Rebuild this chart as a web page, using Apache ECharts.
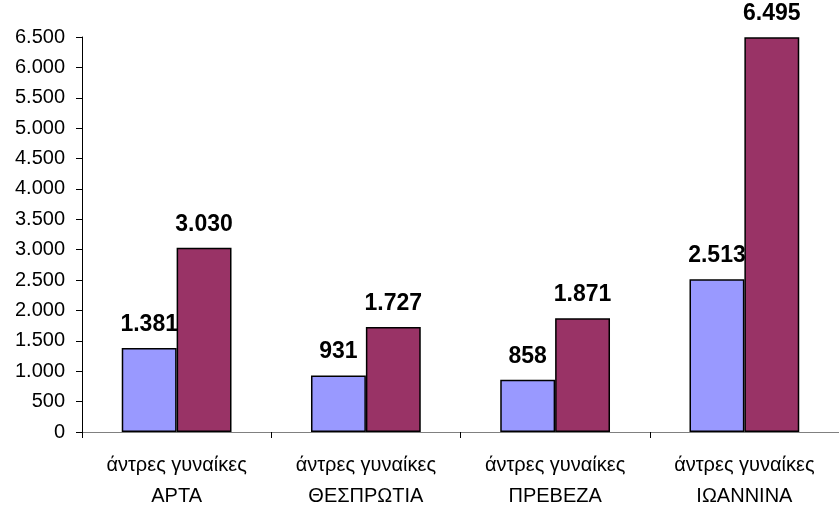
<!DOCTYPE html>
<html>
<head>
<meta charset="utf-8">
<script src="https://cdn.jsdelivr.net/npm/echarts@6/dist/echarts.min.js"></script>
<style>
  html, body { margin: 0; padding: 0; background: #fff; }
  #chart { width: 839px; height: 512px; }
</style>
</head>
<body>
<div id="chart"></div>
<script>
// νομοί και τιμές
var regions = ["ΑΡΤΑ", "ΘΕΣΠΡΩΤΙΑ", "ΠΡΕΒΕΖΑ", "ΙΩΑΝΝΙΝΑ"];
var men = [1381, 931, 858, 2513];
var women = [3030, 1727, 1871, 6495];
var yTicks = [0, 500, 1000, 1500, 2000, 2500, 3000, 3500, 4000, 4500, 5000, 5500, 6000, 6500];

// 6495 -> 6.495
function fmt(v) {
  return String(v).replace(/\B(?=(\d{3})+(?!\d))/g, ".");
}

var chart = echarts.init(document.getElementById("chart"));

var labelStyle = {
  show: true,
  position: "top",
  distance: 12,
  color: "#000",
  fontFamily: "Liberation Sans, Arial, sans-serif",
  fontWeight: "bold",
  fontSize: 23,
  formatter: function (p) { return fmt(p.value); }
};

var option = {
  animation: false,
  grid: { left: 82, right: -5, top: 37, bottom: 75, containLabel: false },
  xAxis: {
    type: "category",
    data: regions,
    axisLine: { lineStyle: { color: "#808080", width: 1 } },
    axisTick: { show: true, length: 6, lineStyle: { color: "#000" } },
    axisLabel: {
      color: "#000",
      fontFamily: "Liberation Sans, Arial, sans-serif",
      fontSize: 20,
      lineHeight: 31,
      margin: 18,
      formatter: function (v) { return "άντρες γυναίκες\n" + v; }
    }
  },
  yAxis: {
    type: "value",
    min: yTicks[0],
    max: yTicks[yTicks.length - 1],
    interval: 500,
    splitLine: { show: false },
    axisLine: { show: true, lineStyle: { color: "#000" } },
    axisTick: { show: true, length: 6, lineStyle: { color: "#000" } },
    axisLabel: {
      color: "#000",
      fontFamily: "Liberation Sans, Arial, sans-serif",
      fontSize: 20,
      margin: 17,
      formatter: function (v) { return fmt(v); }
    }
  },
  series: [
    {
      name: "άντρες",
      type: "bar",
      data: men,
      barGap: "0%",
      barCategoryGap: "42%",
      itemStyle: { color: "#9999FF", borderColor: "#000", borderWidth: 1.5 },
      label: labelStyle
    },
    {
      name: "γυναίκες",
      type: "bar",
      data: women,
      itemStyle: { color: "#993366", borderColor: "#000", borderWidth: 1.5 },
      label: labelStyle
    }
  ]
};

chart.setOption(option);
</script>
</body>
</html>
